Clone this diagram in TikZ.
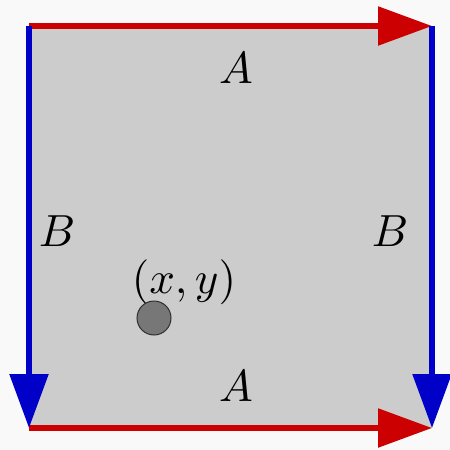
\documentclass[tikz,border=0pt]{standalone}
\usetikzlibrary{arrows.meta}
\definecolor{bgc}{HTML}{F9F9F9}
\definecolor{sq}{HTML}{CCCCCC}
\definecolor{rd}{HTML}{CC0000}
\definecolor{bl}{HTML}{0000C8}
\definecolor{dotc}{HTML}{777777}
\begin{document}
\begin{tikzpicture}[x=1pt,y=-1pt,
  edgeA/.style={rd,line width=5.5pt,-{Triangle[length=54pt,width=38pt]}},
  edgeB/.style={bl,line width=5.5pt,-{Triangle[length=54pt,width=38pt]}},
  lab/.style={inner sep=0pt,scale=4.5}]
\fill[bgc] (0,0) rectangle (450,450);
\useasboundingbox (0,0) rectangle (450,450);
\coordinate (tl) at (29,26);
\coordinate (tr) at (432,26);
\coordinate (bl) at (29,428);
\coordinate (br) at (432,428);
\fill[sq] (tl) rectangle (br);
\draw[edgeA] (tl) -- (tr);
\draw[edgeA] (bl) -- (br);
\draw[edgeB] (tl) -- (bl);
\draw[edgeB] (tr) -- (br);
\node[lab] (a1) at (236,68) {$A$};
\node[lab] (a2) at (236,386) {$A$};
\node[lab] (b1) at (57,231) {$B$};
\node[lab] (b2) at (390,231) {$B$};
\node[lab] (xy) at (184,282) {$(x,y)$};
\node[circle,draw=black!60!dotc,fill=dotc,line width=1pt,minimum size=34pt,inner sep=0pt] (pt) at (154,318) {};
\end{tikzpicture}
\end{document}
